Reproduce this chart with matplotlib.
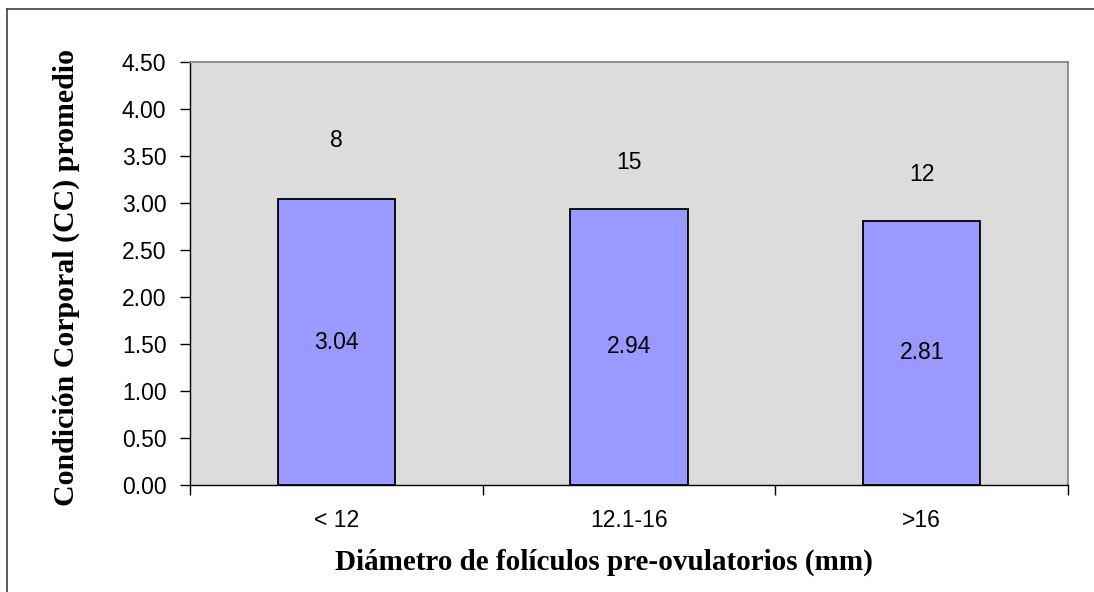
import matplotlib
matplotlib.use("Agg")
import matplotlib.pyplot as plt
from matplotlib.lines import Line2D

categories = ["< 12", "12.1-16", ">16"]
means = [3.04, 2.94, 2.81]
counts = ["8", "15", "12"]
count_pos = [3.67, 3.43, 3.30]
yticks = [0.0, 0.5, 1.0, 1.5, 2.0, 2.5, 3.0, 3.5, 4.0, 4.5]

W, H = 1094, 592
fig = plt.figure(figsize=(W/100, H/100), dpi=100)
ax = fig.add_axes([190/W, 1-485/H, (1068-190)/W, (485-62)/H])
ax.set_facecolor("#DCDCDC")

fs = 16.5
x = list(range(len(categories)))
ax.bar(x, means, width=0.4, color="#9999FF", edgecolor="black", linewidth=1.3, zorder=3)
for xi, m, c, cp in zip(x, means, counts, count_pos):
    ax.text(xi, m/2, f"{m:.2f}", ha="center", va="center", fontsize=fs, family="Liberation Sans", zorder=4)
    ax.text(xi, cp, c, ha="center", va="center", fontsize=fs, family="Liberation Sans", zorder=4)

ax.set_xlim(-0.5, 2.5)
ax.set_ylim(0, 4.5)
ax.set_yticks(yticks)
ax.set_yticklabels([f"{v:.2f}" for v in yticks], family="Liberation Sans", fontsize=fs)
ax.set_xticks(x)
ax.set_xticklabels(categories, family="Liberation Sans", fontsize=fs)
ax.tick_params(axis="x", length=0, pad=17)
ax.set_xticks([-0.5, 0.5, 1.5, 2.5], minor=True)
ax.tick_params(axis="x", which="minor", length=7, direction="out", width=1)
ax.tick_params(axis="y", length=7, direction="out", width=1, pad=10)

for s in ["top", "right"]:
    ax.spines[s].set_color("#888888")
    ax.spines[s].set_linewidth(1.3)
for s in ["left", "bottom"]:
    ax.spines[s].set_color("black")
    ax.spines[s].set_linewidth(1.0)

fig.text(604/W, 1-562/H, "Diámetro de folículos pre-ovulatorios (mm)", family="Liberation Serif",
         fontweight="bold", fontsize=21, ha="center", va="center")
fig.text(66/W, 1-278/H, "Condición Corporal (CC) promedio", family="Liberation Serif",
         fontweight="bold", fontsize=21.5, ha="center", va="center", rotation=90)

# outer chart frame
fig.add_artist(Line2D([7/W, 1.01], [1-9/H, 1-9/H], color="#404040", linewidth=1.2, transform=fig.transFigure))
fig.add_artist(Line2D([7/W, 7/W], [-0.01, 1-9/H], color="#404040", linewidth=1.2, transform=fig.transFigure))

fig.savefig("out.png", dpi=100)
